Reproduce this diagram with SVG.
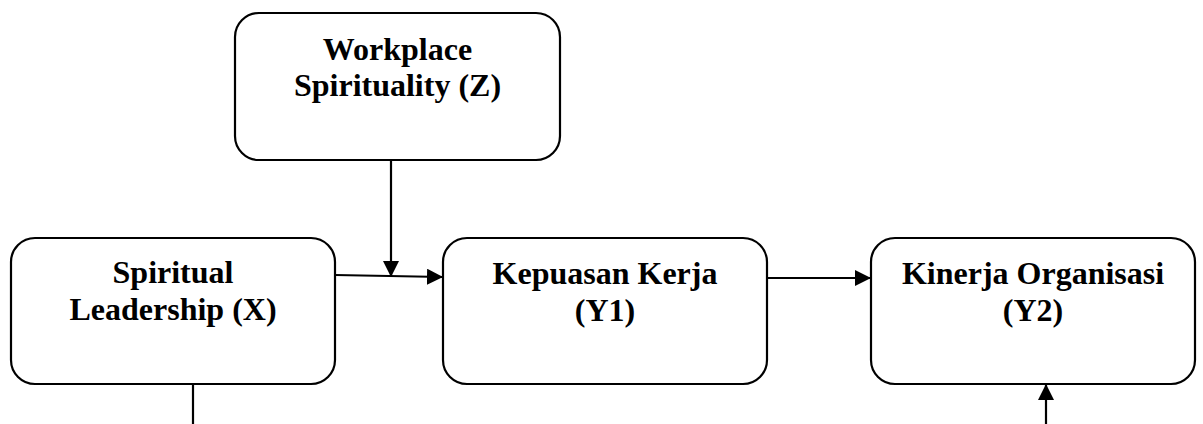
<svg xmlns="http://www.w3.org/2000/svg" width="1203" height="424" viewBox="0 0 1203 424">
<style>
.box{fill:#fff;stroke:#000;stroke-width:2.2}
.lbl{font-family:"Liberation Serif","Times New Roman",serif;font-weight:bold;font-size:32px;text-anchor:middle;fill:#000}
.ln{stroke:#000;stroke-width:2.2;fill:none}
</style>
<defs>
<marker id="ah" markerWidth="16" markerHeight="16" viewBox="0 0 16 16" refX="16" refY="8" orient="auto" markerUnits="userSpaceOnUse">
<path d="M0,0 L16,8 L0,16 Z" fill="#000"/>
</marker>
</defs>
<rect width="1203" height="424" fill="#fff"/>
<g id="connectors">
<line class="ln" x1="391" y1="160" x2="391" y2="277" marker-end="url(#ah)"/>
<line class="ln" x1="335" y1="275" x2="443" y2="277" marker-end="url(#ah)"/>
<line class="ln" x1="767" y1="278" x2="871" y2="278" marker-end="url(#ah)"/>
<line class="ln" x1="193" y1="384" x2="193" y2="424"/>
<line class="ln" x1="1046" y1="424" x2="1046" y2="384" marker-end="url(#ah)"/>
</g>
<g id="node-z">
<rect class="box" x="235" y="13" width="325" height="147" rx="24"/>
<text class="lbl" x="397.5" y="60">Workplace</text>
<text class="lbl" x="397.5" y="96">Spirituality (Z)</text>
</g>
<g id="node-x">
<rect class="box" x="11" y="238" width="324" height="146" rx="24"/>
<text class="lbl" x="173" y="283">Spiritual</text>
<text class="lbl" x="173" y="320">Leadership (X)</text>
</g>
<g id="node-y1">
<rect class="box" x="443" y="238" width="324" height="146" rx="24"/>
<text class="lbl" x="605" y="284">Kepuasan Kerja</text>
<text class="lbl" x="605" y="321">(Y1)</text>
</g>
<g id="node-y2">
<rect class="box" x="871" y="238" width="324" height="146" rx="24"/>
<text class="lbl" x="1033" y="284">Kinerja Organisasi</text>
<text class="lbl" x="1033" y="321">(Y2)</text>
</g>
</svg>
